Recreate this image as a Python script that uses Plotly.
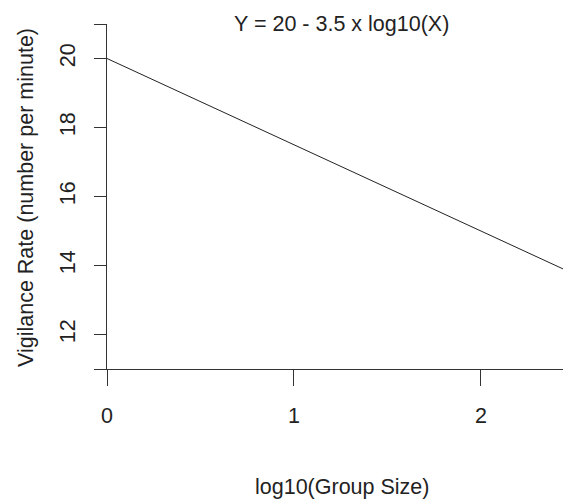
import plotly.graph_objects as go

# Data
line_x = [0, 2.5]
line_y = [20, 13.75]
y_tick_vals = [11, 12, 14, 16, 18, 20, 21]
y_tick_text = ["", "12", "14", "16", "18", "20", ""]
x_tick_vals = [0, 1, 2]
x_tick_text = ["0", "1", "2"]
title_text = "Y = 20 - 3.5 x log10(X)"
x_title = "log10(Group Size)"
y_title = "Vigilance Rate (number per minute)"

FONT = "Liberation Sans, Arial, sans-serif"
FS = 21.5

# page places the figure with an 8px body margin
OFF = 8
W, H = 571 - OFF, 501 - OFF
L, T, R, B = 107 - OFF, 24 - OFF, 0, H - (369 - OFF)
plot_w = W - L - R
plot_h = H - T - B


def px(xw):
    return (xw - 107) / plot_w


def py(yw):
    return (369 - yw) / plot_h


fig = go.Figure()
fig.add_trace(go.Scatter(x=line_x, y=line_y, mode="lines",
                         line=dict(color="#222", width=1), hoverinfo="skip",
                         showlegend=False))

fig.update_layout(
    width=W, height=H,
    margin=dict(l=L, r=R, t=T, b=B, pad=0),
    paper_bgcolor="white", plot_bgcolor="white",
    font=dict(family=FONT, size=FS, color="#222"),
    xaxis=dict(range=[0, 2.482], tickvals=x_tick_vals, ticktext=x_tick_text,
               showgrid=False, zeroline=False, showline=True, linecolor="#333",
               linewidth=1, ticks="outside", ticklen=16, tickcolor="#333",
               tickfont=dict(size=FS), ticklabelstandoff=11),
    yaxis=dict(range=[11, 21], tickvals=y_tick_vals, ticktext=y_tick_text,
               showgrid=False, zeroline=False, showline=True, linecolor="#333",
               linewidth=1, ticks="outside", ticklen=12, tickcolor="#333",
               tickangle=-90, tickfont=dict(size=FS), ticklabelstandoff=10),
    annotations=[
        dict(text=title_text, x=px(341), y=py(24), xref="paper", yref="paper",
             showarrow=False, xanchor="center", yanchor="middle",
             font=dict(size=FS)),
        dict(text=x_title, x=px(342), y=py(487), xref="paper", yref="paper",
             showarrow=False, xanchor="center", yanchor="middle",
             font=dict(size=FS)),
        dict(text=y_title, x=px(26), y=py(198), xref="paper", yref="paper",
             showarrow=False, textangle=-90, xanchor="center", yanchor="middle",
             font=dict(size=FS)),
    ],
)

fig.write_html("out.html")
